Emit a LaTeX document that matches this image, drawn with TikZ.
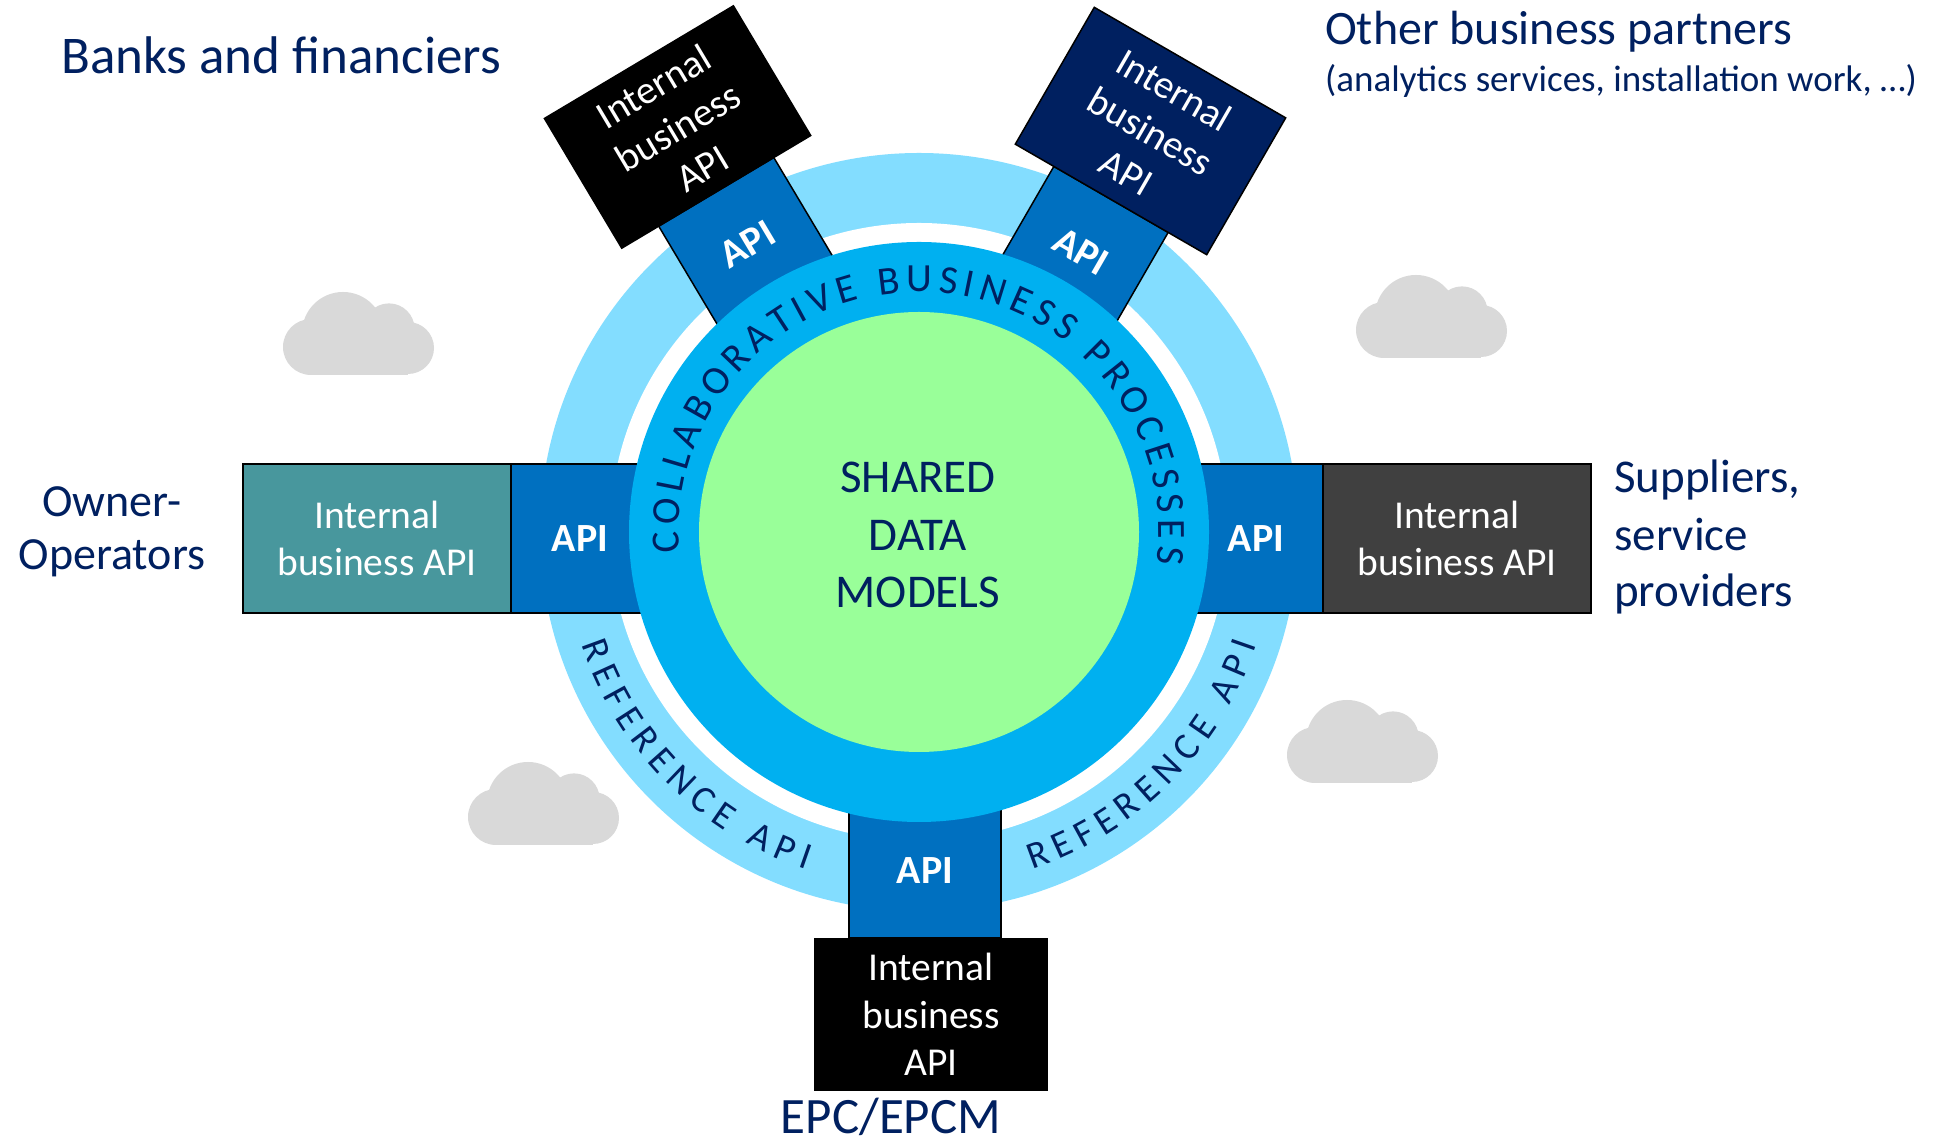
\documentclass[tikz,border=0pt]{standalone}
\usepackage{fontspec}
\setmainfont{Carlito}
\usetikzlibrary{decorations.text}
\definecolor{txtnavy}{HTML}{002060}
\definecolor{ringlight}{RGB}{131,221,255}
\definecolor{ringblue}{HTML}{00B0F0}
\definecolor{coregreen}{RGB}{153,255,153}
\definecolor{apiblue}{HTML}{0070C0}
\definecolor{tealbox}{RGB}{72,151,157}
\definecolor{darkbox}{HTML}{404040}
\definecolor{navybox}{HTML}{002060}
\definecolor{cloudgray}{HTML}{D9D9D9}
\newcommand\curvefont{\fontsize{40}{48}\selectfont}
\newcommand\reffont{\fontsize{38}{46}\selectfont}
\begin{document}
\begin{tikzpicture}[x=1pt,y=1pt,
  apibox/.style={draw=black, line width=1.5pt, fill=apiblue, text=white,
    font=\fontsize{40}{48}\selectfont\bfseries, inner sep=0pt},
  intbox/.style={draw=black, line width=1.5pt, text=white, align=center,
    font=\fontsize{39.5}{47.5}\selectfont, inner sep=0pt},
  lbl/.style={text=txtnavy, inner sep=0pt},
  cloudpic/.pic={
    \fill[cloudgray] (28,28) circle[radius=28];
    \fill[cloudgray] (60,42) circle[radius=41];
    \fill[cloudgray] (106,46) circle[radius=25.6];
    \fill[cloudgray] (125,27) circle[radius=26];
    \fill[cloudgray] (28,0) rectangle (125,43);
  }]
\useasboundingbox (0,0) rectangle (1939,1145);
\fill[white] (0,0) rectangle (1939,1145);

\coordinate (ctr) at (919,613);
\fill[ringlight] (ctr) circle[radius=379];
\fill[white] (ctr) circle[radius=309];

% clouds
\pic (cloudA) at (283,770) {cloudpic};
\pic (cloudB) at (1356,787) {cloudpic};
\pic (cloudC) at (1287,362) {cloudpic};
\pic (cloudD) at (468,300) {cloudpic};

% left / right arms
\node[intbox, fill=tealbox, minimum width=268pt, minimum height=149pt] (owner) at (377,606.5) {Internal\\business API};
\node[apibox, minimum width=138pt, minimum height=149pt] (apiL) at (580,606.5) {API};
\node[apibox, minimum width=134pt, minimum height=149pt] (apiR) at (1256,606.5) {API};
\node[intbox, fill=darkbox, minimum width=268pt, minimum height=149pt] (supp) at (1457,606.5) {Internal\\business API};

% bottom arm
\node[apibox, minimum width=152pt, minimum height=134pt] (apiB) at (925,274) {API};
\node[intbox, fill=black, minimum width=232pt, minimum height=151pt] (epcbox) at (931,130.5) {Internal\\business\\API};

% top-left arm
\begin{scope}[shift={(919,613)}, rotate=30.8, transform shape]
  \node[apibox, minimum width=134pt, minimum height=122pt] (apiTL) at (0,335) {API};
  \node[intbox, fill=black, minimum width=220pt, minimum height=151pt] (bankbox) at (0,471.5) {Internal\\business\\API};
\end{scope}

% top-right arm
\begin{scope}[shift={(919,613)}, rotate=-30, transform shape]
  \node[apibox, minimum width=132pt, minimum height=120pt] (apiTR) at (0,324) {API};
  \node[intbox, fill=navybox, minimum width=221pt, minimum height=158pt] (partbox) at (0,463) {Internal\\business\\API};
\end{scope}

% inner circles
\fill[ringblue] (ctr) circle[radius=290];
\fill[coregreen] (ctr) circle[radius=220];

% curved texts
\path[decorate, decoration={text along path, text color=txtnavy, text align={fit to path},
  text={|\curvefont|COLLABORATIVE BUSINESS PROCESSES}}]
  ([shift={(185:240)}]ctr) arc[start angle=185, end angle=-7.5, radius=240];
\path[decorate, decoration={text along path, text color=txtnavy, text align={fit to path},
  text={|\reffont|REFERENCE API}}]
  ([shift={(198.5:356)}]ctr) arc[start angle=198.5, end angle=251.5, radius=356];
\path[decorate, decoration={text along path, text color=txtnavy, text align={fit to path},
  text={|\reffont|REFERENCE API}}]
  ([shift={(288.5:356)}]ctr) arc[start angle=288.5, end angle=341.5, radius=356];

% centre text
\node[lbl, font=\fontsize{47}{57}\selectfont, anchor=base] (shared1) at (918,652) {SHARED};
\node[lbl, font=\fontsize{47}{57}\selectfont, anchor=base] (shared2) at (918,594) {DATA};
\node[lbl, font=\fontsize{47}{57}\selectfont, anchor=base] (shared3) at (918,537) {MODELS};

% outside labels
\node[lbl, font=\fontsize{53}{64}\selectfont, anchor=base west] (banks) at (61,1071) {Banks and financiers};
\node[lbl, font=\fontsize{48}{58}\selectfont, anchor=base west] (other1) at (1325,1100) {Other business partners};
\node[lbl, font=\fontsize{37}{45}\selectfont, anchor=base west] (other2) at (1325,1053) {(analytics services, installation work, …)};
\node[lbl, font=\fontsize{46}{56}\selectfont, anchor=base] (own1) at (112,628) {Owner-};
\node[lbl, font=\fontsize{46}{56}\selectfont, anchor=base] (own2) at (112,575) {Operators};
\node[lbl, font=\fontsize{47}{57}\selectfont, anchor=base west] (sup1) at (1614,652) {Suppliers,};
\node[lbl, font=\fontsize{47}{57}\selectfont, anchor=base west] (sup2) at (1614,594) {service};
\node[lbl, font=\fontsize{47}{57}\selectfont, anchor=base west] (sup3) at (1614,538) {providers};
\node[lbl, font=\fontsize{51}{61}\selectfont, anchor=base] (epc) at (891,11) {EPC/EPCM};
\end{tikzpicture}
\end{document}
